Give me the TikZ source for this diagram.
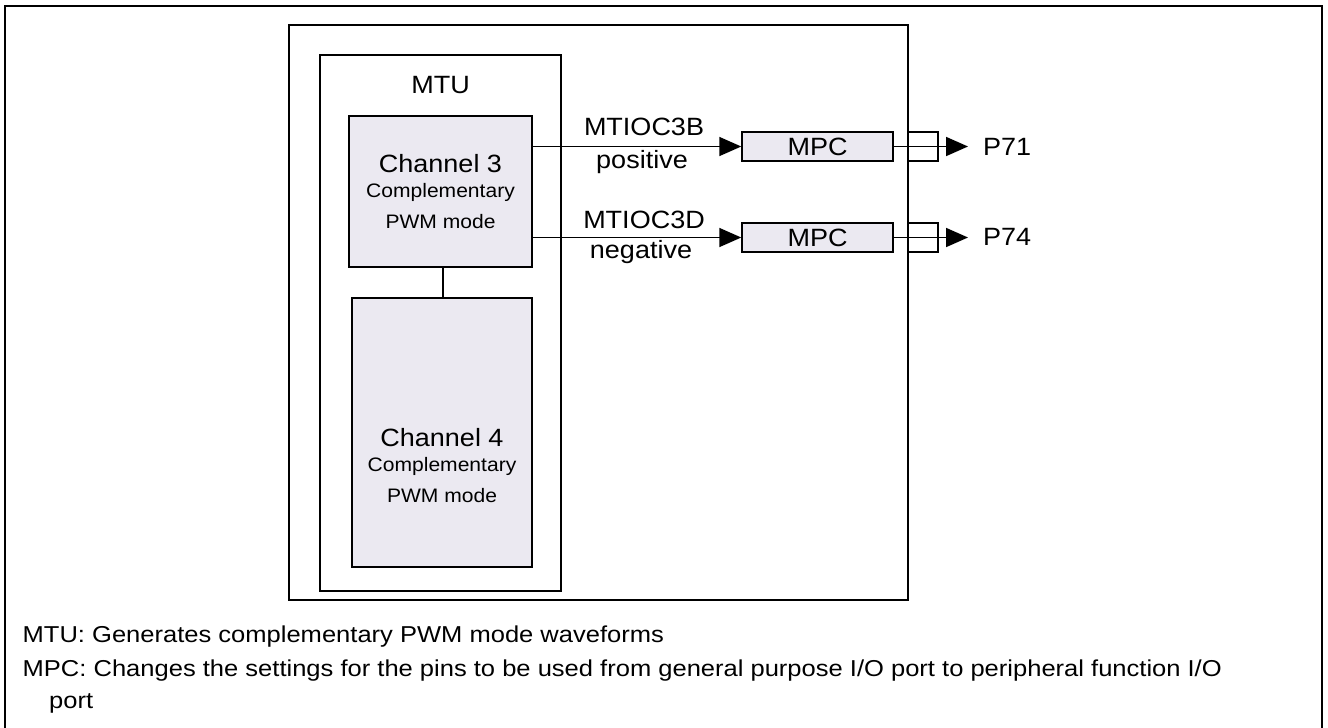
\documentclass[tikz,border=0pt]{standalone}
\usepackage{fontspec}
\setmainfont{Liberation Sans}
\newfontfamily\labfont[FakeStretch=1.08]{Liberation Sans}
\newfontfamily\notefont[FakeStretch=1.11]{Liberation Sans}
\usetikzlibrary{arrows.meta}
\definecolor{boxfill}{RGB}{235,233,241}
\tikzset{
  frame/.style={draw=black, line width=2pt},
  blockbox/.style={draw=black, line width=1.5pt, fill=boxfill, inner sep=0pt},
  pinbox/.style={draw=black, line width=1.5pt, inner sep=0pt, minimum width=30pt, minimum height=29pt},
  wire/.style={line width=1.8pt},
  sig/.style={wire, -{Triangle[length=22pt,width=19pt]}},
  big/.style={font=\labfont\fontsize{25}{28}\selectfont, inner sep=0pt, anchor=base},
  small/.style={font=\labfont\fontsize{19.5}{22}\selectfont, inner sep=0pt, anchor=base},
  note/.style={font=\notefont\fontsize{23}{26}\selectfont, inner sep=0pt, anchor=base west},
}
\begin{document}
\begin{tikzpicture}[x=1pt,y=-1pt]
\useasboundingbox (0,0) rectangle (1328,728);
% outer frame (open at bottom)
\draw[line width=2pt] (5,732) -- (5,6) -- (1322,6) -- (1322,732);
% chip
\node[frame, minimum width=619pt, minimum height=575pt, inner sep=0pt] (chip) at (598.5,312.5) {};
% MTU
\node[frame, minimum width=241pt, minimum height=536pt, inner sep=0pt] (mtu) at (440.5,323) {};
\node[big] (mtulab) at (440.5,93) {MTU};
% channel boxes
\node[blockbox, minimum width=183pt, minimum height=151pt] (ch3) at (440.5,191.5) {};
\node[blockbox, minimum width=180pt, minimum height=269pt] (ch4) at (442,432.5) {};
\node[big] (ch3a) at (440.5,172) {Channel 3};
\node[small] (ch3b) at (440.5,197) {Complementary};
\node[small] (ch3c) at (440.5,228) {PWM mode};
\node[big] (ch4a) at (442,446) {Channel 4};
\node[small] (ch4b) at (442,471) {Complementary};
\node[small] (ch4c) at (442,502) {PWM mode};
\draw[wire] (ch3.south -| 443,0) -- (ch4.north -| 443,0);
% MPC boxes
\node[blockbox, minimum width=151pt, minimum height=29pt] (mpc1) at (817.5,146.5) {};
\node[blockbox, minimum width=151pt, minimum height=29pt] (mpc2) at (817.5,237.5) {};
\node[big] (mpc1t) at (817.5,155) {MPC};
\node[big] (mpc2t) at (817.5,246) {MPC};
% pins
\node[pinbox] (pin1) at (923,146.5) {};
\node[pinbox] (pin2) at (923,237.5) {};
\coordinate (tip1) at (968,146.5);
\coordinate (tip2) at (968,237.5);
% signal arrows
\draw[sig] (ch3.east |- mpc1.west) -- (mpc1.west);
\draw[sig] (ch3.east |- mpc2.west) -- (mpc2.west);
\draw[sig] (mpc1.east) -- (tip1);
\draw[sig] (mpc2.east) -- (tip2);
% redraw chip edge over pins
\draw[line width=2pt] (908,25) -- (908,600);
% signal labels
\node[big] (l1) at (644,135) {MTIOC3B};
\node[big] (l2) at (642,168) {positive};
\node[big] (l3) at (644,228) {MTIOC3D};
\node[big] (l4) at (641,258) {negative};
\node[big, anchor=base west] (p71) at (983,155) {P71};
\node[big, anchor=base west] (p74) at (983,245) {P74};
% notes
\node[note] (n1) at (22.5,642) {MTU: Generates complementary PWM mode waveforms};
\node[note] (n2) at (22.5,676.5) {MPC: Changes the settings for the pins to be used from general purpose I/O port to peripheral function I/O};
\node[note] (n3) at (49,708) {port};
\end{tikzpicture}
\end{document}
